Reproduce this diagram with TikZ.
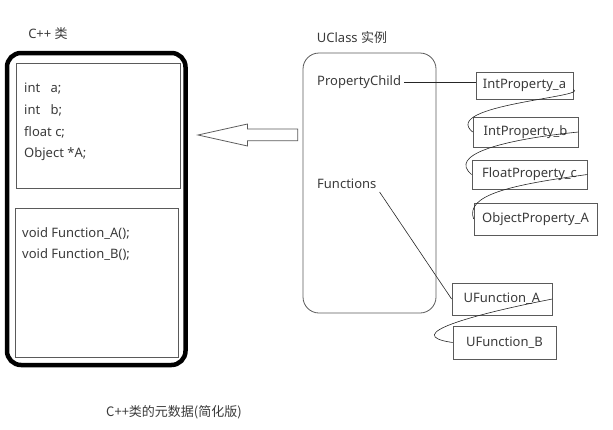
\documentclass[tikz,border=0pt]{standalone}
\usepackage{fontspec}
\setmainfont{Noto Sans}
\newfontfamily\cjk{Noto Sans CJK SC}
\usepackage{tikz}
\usetikzlibrary{shapes.arrows,positioning}

\definecolor{ink}{HTML}{3A3A3A}
\definecolor{rule}{HTML}{5A5A5A}

\tikzset{
  box/.style={draw=rule, line width=0.8pt, rectangle, inner sep=0pt},
  prop/.style={box, text=ink, font=\fontsize{13}{15}\selectfont},
  lbl/.style={text=ink, font=\fontsize{13}{15}\selectfont, inner sep=3pt},
  code/.style={text=ink, align=left, inner sep=0pt, font=\fontsize{13}{21.7}\selectfont},
  wire/.style={draw=black!85, line width=0.6pt}
}

\begin{document}
\begin{tikzpicture}[x=1pt,y=-1pt]
    \useasboundingbox (0,0) rectangle (613,429);
    % C++ class
    \node[lbl] (cls_title) at (48,34) {C++ {\cjk 类}};
    \node[draw, line width=4.5pt, rounded corners=14, minimum width=178.5, minimum height=312] (cls) at (96.25,209) {};
    \node[box, minimum width=164, minimum height=125] (cls_data) at (98,125.5) {};
    \node[box, minimum width=163, minimum height=149] (cls_func) at (96.5,282.5) {};
    \node[code, anchor=north west] (data_txt) at (24,83) {int\hspace{7pt} a;\\ int\hspace{7pt} b;\\ float c;\\ Object *A;};
    \node[code, anchor=north west] (func_txt) at (22,227) {void Function\_A();\\ void Function\_B();};
    % hollow arrow
    \draw[draw=rule, line width=0.8pt] (198,135) -- (247.5,124) -- (247.5,129) -- (297.7,129)
      -- (297.7,140.7) -- (247.5,140.7) -- (247.5,146) -- cycle;

    % UClass instance
    \node[lbl] (uc_title) at (352,38) {UClass {\cjk 实例}};
    \node[box, rounded corners=16, minimum width=133, minimum height=260] (uc) at (369.5,183) {};
    \node[lbl, anchor=west] (pchild) at (314,82) {PropertyChild};
    \node[lbl, anchor=west] (funcs) at (314,184) {Functions};

    \node[prop, minimum width=97, minimum height=27] (prop_a) at (524.5,85.5) {IntProperty\_a};
    \node[prop, minimum width=105, minimum height=30] (prop_b) at (525.5,132) {IntProperty\_b};
    \node[prop, minimum width=115, minimum height=29] (prop_c) at (529.5,174.5) {FloatProperty\_c};
    \node[prop, minimum width=123, minimum height=32] (prop_d) at (535.5,219) {ObjectProperty\_A};
    \node[prop, minimum width=100, minimum height=32] (ufn_a) at (502,299) {UFunction\_A};
    \node[prop, minimum width=103, minimum height=33] (ufn_b) at (504.5,342.5) {UFunction\_B};

    \draw[wire] (pchild.east) -- (pchild.east -| prop_a.west);
    \draw[wire] (funcs.south east) -- (ufn_a.west);
    \draw[wire] ([yshift=-4pt]prop_a.east) .. controls (590,97) and (440,105) .. (prop_b.west);
    \draw[wire] (prop_b.east) .. controls (500,140) and (448,155) .. (prop_c.west);
    \draw[wire] (prop_c.east) .. controls (510,185) and (465,195) .. (prop_d.west);
    \draw[wire] (ufn_a.east) .. controls (470,315) and (400,335) .. (ufn_b.west);

    \node[lbl] (caption) at (174,412) {\cjk C++类的元数据(简化版)};
  \end{tikzpicture}
\end{document}
